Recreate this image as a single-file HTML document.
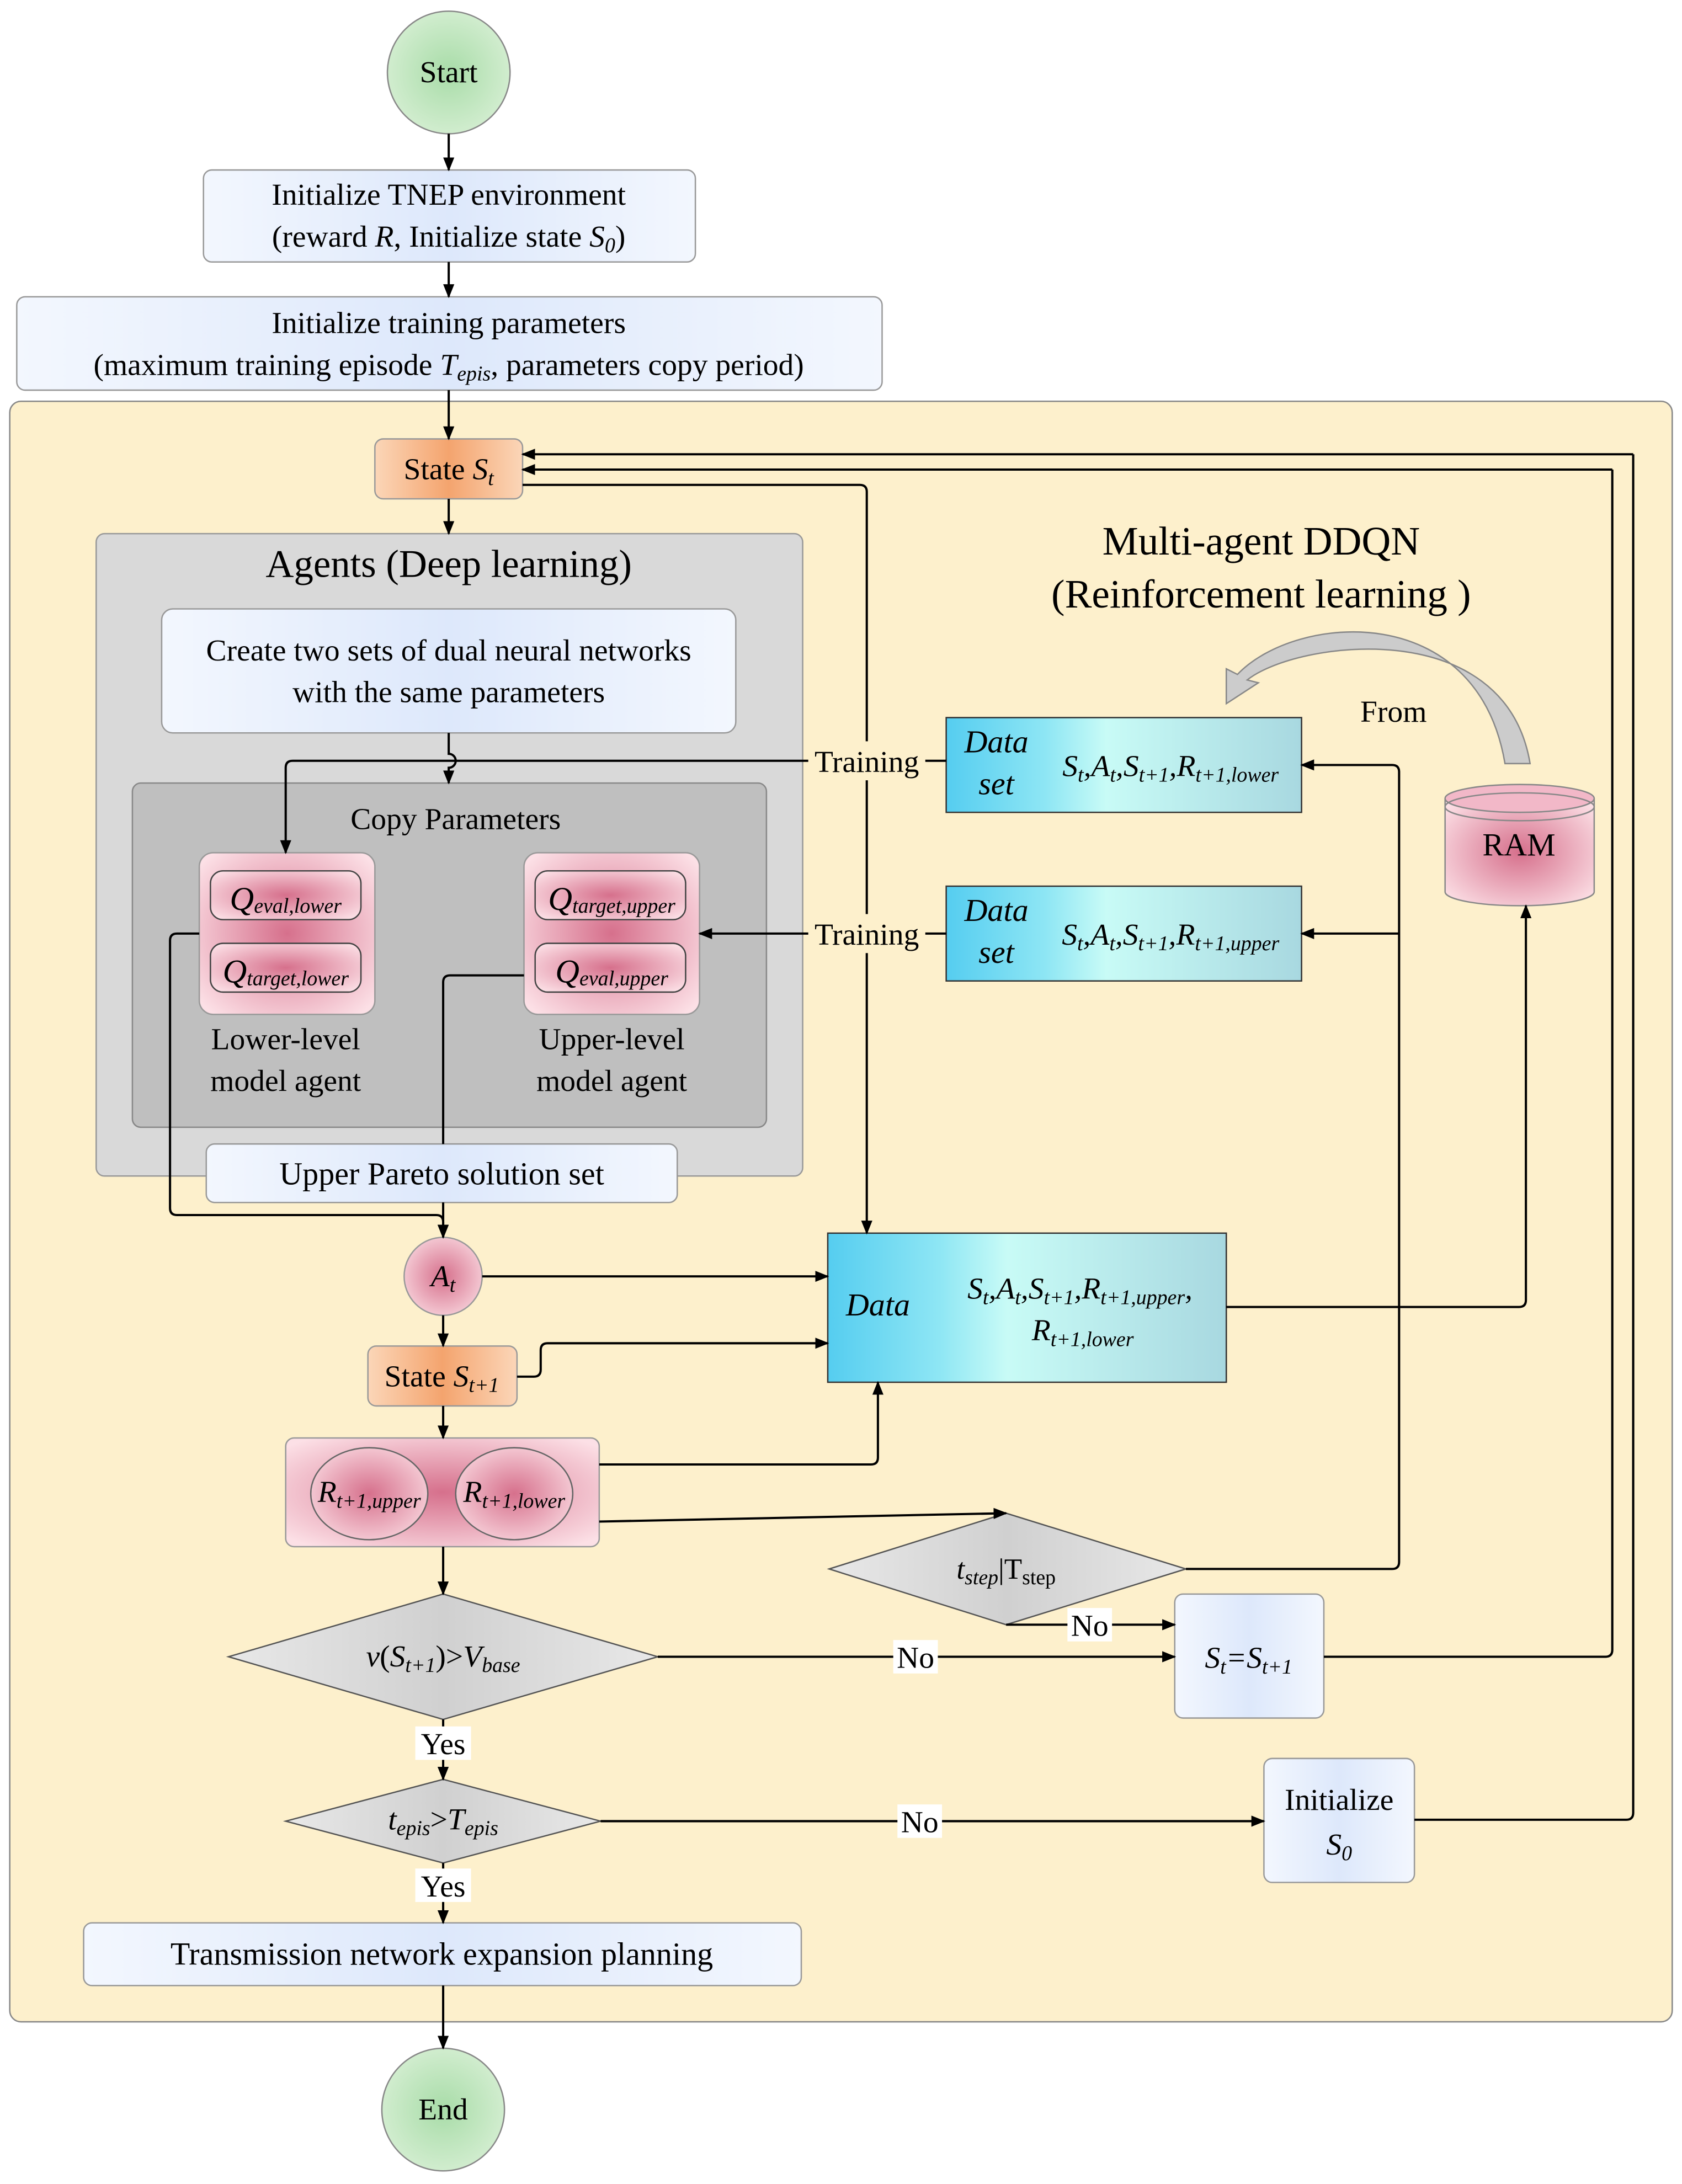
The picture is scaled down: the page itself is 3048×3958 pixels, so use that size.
<!DOCTYPE html>
<html><head><meta charset="utf-8"><style>html,body{margin:0;padding:0;background:#fff}svg{display:block}text{font-family:"Liberation Serif","Times New Roman",serif;fill:#000}</style></head>
<body>
<svg width="3048" height="3958" viewBox="0 0 1207 1567.4" xmlns="http://www.w3.org/2000/svg">
<defs>
<radialGradient id="g" cx="50%" cy="50%" r="60%"><stop offset="0" stop-color="#a8dca8"/><stop offset="1" stop-color="#d9f0d6"/></radialGradient>
<linearGradient id="b" x1="0" y1="0" x2="1" y2="0"><stop offset="0" stop-color="#f3f7fe"/><stop offset=".5" stop-color="#dde8fb"/><stop offset="1" stop-color="#f3f7fe"/></linearGradient>
<linearGradient id="o" x1="0" y1="0" x2="1" y2="0"><stop offset="0" stop-color="#fbd6b8"/><stop offset=".5" stop-color="#f4a46e"/><stop offset="1" stop-color="#fbd6b8"/></linearGradient>
<radialGradient id="p" cx="50%" cy="50%" r="65%"><stop offset="0" stop-color="#d6708c"/><stop offset="1" stop-color="#fce0e6"/></radialGradient>
<linearGradient id="c" x1="0" y1="0" x2="1" y2="0"><stop offset="0" stop-color="#55cdf0"/><stop offset=".28" stop-color="#8ee6f4"/><stop offset=".45" stop-color="#c8fbf6"/><stop offset="1" stop-color="#a8d8e0"/></linearGradient>
<linearGradient id="d" x1="0" y1="0" x2="1" y2="0"><stop offset="0" stop-color="#e8e8e8"/><stop offset=".5" stop-color="#d0d0d0"/><stop offset="1" stop-color="#e8e8e8"/></linearGradient>
<marker id="a" markerWidth="10" markerHeight="8" refX="9" refY="4" orient="auto" markerUnits="userSpaceOnUse"><path d="M0,0 L10,4 L0,8 Z" fill="#000"/></marker>
</defs>
<rect x="0" y="0" width="1207" height="1568" fill="#fff"/>
<rect x="7" y="288" width="1193" height="1163" rx="8" fill="#fdf0cc" stroke="#888" stroke-width="1"/>
<text x="905" y="398" font-size="29" text-anchor="middle">Multi-agent DDQN</text>
<text x="905" y="436" font-size="29" text-anchor="middle">(Reinforcement learning )</text>

<circle cx="322" cy="52" r="44" fill="url(#g)" stroke="#888"/>
<text x="322" y="59" font-size="22" text-anchor="middle">Start</text>
<rect x="146" y="122" width="353" height="66" rx="6" fill="url(#b)" stroke="#999"/>
<text x="322" y="147" font-size="22" text-anchor="middle">Initialize TNEP environment</text>
<text x="322" y="177" font-size="22" text-anchor="middle">(reward <tspan font-style="italic">R</tspan>,  Initialize state <tspan font-style="italic">S<tspan font-size="15" dy="4">0</tspan></tspan><tspan dy="-4">)</tspan></text>
<rect x="12" y="213" width="621" height="67" rx="6" fill="url(#b)" stroke="#999"/>
<text x="322" y="239" font-size="22" text-anchor="middle">Initialize training parameters</text>
<text x="322" y="269" font-size="22" text-anchor="middle">(maximum training episode <tspan font-style="italic">T<tspan font-size="15" dy="4">epis</tspan></tspan><tspan dy="-4">, parameters copy period)</tspan></text>

<rect x="269" y="315" width="106" height="43" rx="6" fill="url(#o)" stroke="#999"/>
<text x="322" y="344" font-size="22" text-anchor="middle">State <tspan font-style="italic">S<tspan font-size="15" dy="4">t</tspan></tspan></text>

<rect x="69" y="383" width="507" height="461" rx="6" fill="#d9d9d9" stroke="#999"/>
<text x="322" y="414" font-size="28" text-anchor="middle">Agents (Deep learning)</text>
<rect x="116" y="437" width="412" height="89" rx="8" fill="url(#b)" stroke="#999"/>
<text x="322" y="474" font-size="22" text-anchor="middle">Create two sets of dual neural networks</text>
<text x="322" y="504" font-size="22" text-anchor="middle">with the same parameters</text>
<rect x="95" y="562" width="455" height="247" rx="6" fill="#bfbfbf" stroke="#888"/>
<text x="327" y="595" font-size="22" text-anchor="middle">Copy Parameters</text>

<rect x="143" y="612" width="126" height="116" rx="10" fill="url(#p)" stroke="#999"/>
<rect x="151" y="625" width="108" height="35" rx="9" fill="url(#p)" stroke="#444"/>
<rect x="151" y="677" width="108" height="35" rx="9" fill="url(#p)" stroke="#444"/>
<text x="205" y="653" font-size="24" font-style="italic" text-anchor="middle">Q<tspan font-size="15" dy="2">eval,lower</tspan></text>
<text x="205" y="705" font-size="24" font-style="italic" text-anchor="middle">Q<tspan font-size="15" dy="2">target,lower</tspan></text>
<rect x="376" y="612" width="126" height="116" rx="10" fill="url(#p)" stroke="#999"/>
<rect x="384" y="625" width="108" height="35" rx="9" fill="url(#p)" stroke="#444"/>
<rect x="384" y="677" width="108" height="35" rx="9" fill="url(#p)" stroke="#444"/>
<text x="439" y="653" font-size="24" font-style="italic" text-anchor="middle">Q<tspan font-size="15" dy="2">target,upper</tspan></text>
<text x="439" y="705" font-size="24" font-style="italic" text-anchor="middle">Q<tspan font-size="15" dy="2">eval,upper</tspan></text>
<text x="205" y="753" font-size="22" text-anchor="middle">Lower-level</text>
<text x="205" y="783" font-size="22" text-anchor="middle">model agent</text>
<text x="439" y="753" font-size="22" text-anchor="middle">Upper-level</text>
<text x="439" y="783" font-size="22" text-anchor="middle">model agent</text>

<rect x="148" y="821" width="338" height="42" rx="6" fill="url(#b)" stroke="#999"/>
<text x="317" y="850" font-size="23" text-anchor="middle">Upper Pareto solution set</text>

<circle cx="318" cy="916" r="28" fill="url(#p)" stroke="#999"/>
<text x="318" y="923" font-size="22" font-style="italic" text-anchor="middle">A<tspan font-size="15" dy="4">t</tspan></text>
<rect x="264" y="966" width="107" height="43" rx="6" fill="url(#o)" stroke="#999"/>
<text x="317" y="995" font-size="22" text-anchor="middle">State <tspan font-style="italic">S<tspan font-size="15" dy="4">t+1</tspan></tspan></text>
<rect x="205" y="1032" width="225" height="78" rx="6" fill="url(#p)" stroke="#999"/>
<ellipse cx="265" cy="1072" rx="42" ry="33" fill="url(#p)" stroke="#666"/>
<ellipse cx="369" cy="1072" rx="42" ry="33" fill="url(#p)" stroke="#666"/>
<text x="265" y="1078" font-size="22" font-style="italic" text-anchor="middle">R<tspan font-size="15" dy="4">t+1,upper</tspan></text>
<text x="369" y="1078" font-size="22" font-style="italic" text-anchor="middle">R<tspan font-size="15" dy="4">t+1,lower</tspan></text>

<polygon points="164,1189 318,1144 472,1189 318,1234" fill="url(#d)" stroke="#555"/>
<text x="318" y="1196" font-size="22" text-anchor="middle"><tspan font-style="italic">v</tspan>(<tspan font-style="italic">S<tspan font-size="15" dy="4">t+1</tspan></tspan><tspan dy="-4">)&gt;</tspan><tspan font-style="italic">V<tspan font-size="15" dy="4">base</tspan></tspan></text>
<polygon points="205,1307 318,1277 431,1307 318,1337" fill="url(#d)" stroke="#555"/>
<text x="318" y="1313" font-size="22" font-style="italic" text-anchor="middle">t<tspan font-size="15" dy="4">epis</tspan><tspan dy="-4" font-style="normal">&gt;</tspan>T<tspan font-size="15" dy="4">epis</tspan></text>
<rect x="60" y="1380" width="515" height="45" rx="6" fill="url(#b)" stroke="#999"/>
<text x="317" y="1410" font-size="23" text-anchor="middle">Transmission network expansion planning</text>
<circle cx="318" cy="1514" r="44" fill="url(#g)" stroke="#888"/>
<text x="318" y="1521" font-size="22" text-anchor="middle">End</text>

<rect x="679" y="515" width="255" height="68" fill="url(#c)" stroke="#333"/>
<text x="715" y="540" font-size="23" font-style="italic" text-anchor="middle">Data</text>
<text x="715" y="570" font-size="23" font-style="italic" text-anchor="middle">set</text>
<text x="840" y="557" font-size="22" font-style="italic" text-anchor="middle">S<tspan font-size="15" dy="4">t</tspan><tspan dy="-4">,A</tspan><tspan font-size="15" dy="4">t</tspan><tspan dy="-4">,S</tspan><tspan font-size="15" dy="4">t+1</tspan><tspan dy="-4">,R</tspan><tspan font-size="15" dy="4">t+1,lower</tspan></text>
<rect x="679" y="636" width="255" height="68" fill="url(#c)" stroke="#333"/>
<text x="715" y="661" font-size="23" font-style="italic" text-anchor="middle">Data</text>
<text x="715" y="691" font-size="23" font-style="italic" text-anchor="middle">set</text>
<text x="840" y="678" font-size="22" font-style="italic" text-anchor="middle">S<tspan font-size="15" dy="4">t</tspan><tspan dy="-4">,A</tspan><tspan font-size="15" dy="4">t</tspan><tspan dy="-4">,S</tspan><tspan font-size="15" dy="4">t+1</tspan><tspan dy="-4">,R</tspan><tspan font-size="15" dy="4">t+1,upper</tspan></text>

<rect x="594" y="885" width="286" height="107" fill="url(#c)" stroke="#333"/>
<text x="630" y="944" font-size="23" font-style="italic" text-anchor="middle">Data</text>
<text x="775" y="932" font-size="22" font-style="italic" text-anchor="middle">S<tspan font-size="15" dy="4">t</tspan><tspan dy="-4">,A</tspan><tspan font-size="15" dy="4">t</tspan><tspan dy="-4">,S</tspan><tspan font-size="15" dy="4">t+1</tspan><tspan dy="-4">,R</tspan><tspan font-size="15" dy="4">t+1,upper</tspan><tspan dy="-4">,</tspan></text>
<text x="777" y="962" font-size="22" font-style="italic" text-anchor="middle">R<tspan font-size="15" dy="4">t+1,lower</tspan></text>

<path d="M1037,573 L1037,640 A53.5,10 0 0 0 1144,640 L1144,573" fill="url(#p)" stroke="#888"/>
<ellipse cx="1090.5" cy="573" rx="53.5" ry="10" fill="#f2b8c8" stroke="#888"/>
<ellipse cx="1090.5" cy="579" rx="53.5" ry="10" fill="none" stroke="#888"/>
<text x="1090" y="614" font-size="23" text-anchor="middle">RAM</text>
<text x="1000" y="518" font-size="22" text-anchor="middle">From</text>
<path d="M1098,548 C1080,440 930,460 895,488 L903,490 L880,505 L880,480 L888,484 C930,440 1060,430 1080,548 Z" fill="#cccccc" stroke="#888"/>

<polygon points="595,1126 722,1086 851,1126 722,1166" fill="url(#d)" stroke="#555"/>
<text x="722" y="1133" font-size="21" text-anchor="middle"><tspan font-style="italic">t<tspan font-size="15" dy="4">step</tspan></tspan><tspan dy="-4">|T</tspan><tspan font-size="15" dy="4">step</tspan></text>
<rect x="843" y="1144" width="107" height="89" rx="6" fill="url(#b)" stroke="#999"/>
<text x="896" y="1197" font-size="22" font-style="italic" text-anchor="middle">S<tspan font-size="15" dy="4">t</tspan><tspan dy="-4">=S</tspan><tspan font-size="15" dy="4">t+1</tspan></text>
<rect x="907" y="1262" width="108" height="89" rx="6" fill="url(#b)" stroke="#999"/>
<text x="961" y="1299" font-size="22" text-anchor="middle">Initialize</text>
<text x="961" y="1331" font-size="22" font-style="italic" text-anchor="middle">S<tspan font-size="15" dy="4">0</tspan></text>

<g stroke="#000" stroke-width="1.6" fill="none">
<path d="M322,96 V122" marker-end="url(#a)"/>
<path d="M322,188 V213" marker-end="url(#a)"/>
<path d="M322,280 V315" marker-end="url(#a)"/>
<path d="M322,358 V383" marker-end="url(#a)"/>
<path d="M322,526 V541 A5,5 0 0 1 322,551 V562" marker-end="url(#a)"/>
<path d="M679,546 H210 Q205,546 205,551 V612" marker-end="url(#a)"/>
<path d="M679,670 H502" marker-end="url(#a)"/>
<path d="M143,670 H127 Q122,670 122,675 V867 Q122,872 127,872 H313 Q318,872 318,877 V888" marker-end="url(#a)"/>
<path d="M376,700 H323 Q318,700 318,705 V821"/>
<path d="M318,863 V888" marker-end="url(#a)"/>
<path d="M375,348 H617 Q622,348 622,353 V885" marker-end="url(#a)"/>
<path d="M1172,326 V1301 Q1172,1306 1167,1306 H1015"/>
<path d="M1172,326 H375" marker-end="url(#a)"/>
<path d="M1157,337 V1184 Q1157,1189 1152,1189 H950"/>
<path d="M1157,337 H375" marker-end="url(#a)"/>
<path d="M346,916 H594" marker-end="url(#a)"/>
<path d="M318,944 V966" marker-end="url(#a)"/>
<path d="M371,988 H383 Q388,988 388,983 V969 Q388,964 393,964 H594" marker-end="url(#a)"/>
<path d="M318,1009 V1032" marker-end="url(#a)"/>
<path d="M430,1051 H625 Q630,1051 630,1046 V992" marker-end="url(#a)"/>
<path d="M430,1092 L722,1086" marker-end="url(#a)"/>
<path d="M851,1126 H999 Q1004,1126 1004,1121 V554 Q1004,549 999,549 H934" marker-end="url(#a)"/>
<path d="M1004,670 H934" marker-end="url(#a)"/>
<path d="M722,1166 H843" marker-end="url(#a)"/>
<path d="M880,938 H1090 Q1095,938 1095,933 V650" marker-end="url(#a)"/>
<path d="M318,1110 V1144" marker-end="url(#a)"/>
<path d="M472,1189 H843" marker-end="url(#a)"/>
<path d="M318,1234 V1277" marker-end="url(#a)"/>
<path d="M431,1307 H907" marker-end="url(#a)"/>
<path d="M318,1337 V1380" marker-end="url(#a)"/>
<path d="M318,1425 V1470" marker-end="url(#a)"/>
</g>
<rect x="580" y="532" width="84" height="28" fill="#fdf0cc"/>
<text x="622" y="554" font-size="22" text-anchor="middle">Training</text>
<rect x="580" y="656" width="84" height="28" fill="#fdf0cc"/>
<text x="622" y="678" font-size="22" text-anchor="middle">Training</text>
<rect x="766" y="1154" width="32" height="24" fill="#fff"/>
<text x="782" y="1174" font-size="22" text-anchor="middle">No</text>
<rect x="641" y="1177" width="32" height="24" fill="#fff"/>
<text x="657" y="1197" font-size="22" text-anchor="middle">No</text>
<rect x="644" y="1295" width="32" height="24" fill="#fff"/>
<text x="660" y="1315" font-size="22" text-anchor="middle">No</text>
<rect x="298" y="1239" width="40" height="24" fill="#fff"/>
<text x="318" y="1259" font-size="22" text-anchor="middle">Yes</text>
<rect x="298" y="1341" width="40" height="24" fill="#fff"/>
<text x="318" y="1361" font-size="22" text-anchor="middle">Yes</text>
</svg>
</body></html>
